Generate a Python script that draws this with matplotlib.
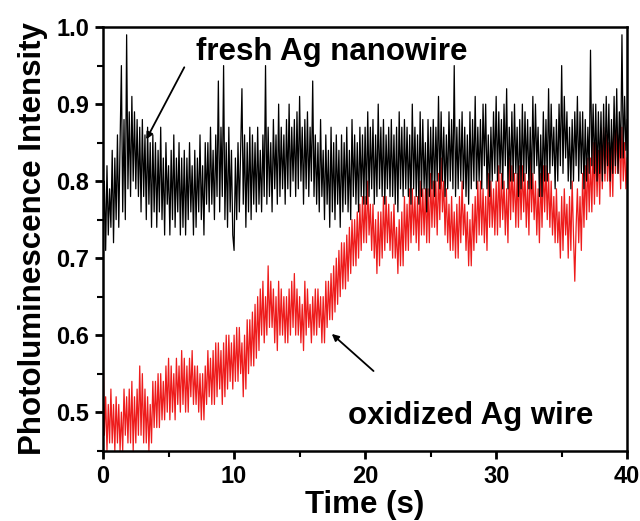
import numpy as np
import matplotlib
matplotlib.use("Agg")
import matplotlib.pyplot as plt
from matplotlib.ticker import MultipleLocator, FormatStrFormatter

# time axis (s), 0.1 s steps
time = [round(0.1 * i, 1) for i in range(401)]

fresh = [
    0.72, 0.80, 0.71, 0.82, 0.73, 0.79, 0.74, 0.84, 0.72, 0.83, 0.75, 0.86, 0.74, 0.85, 0.95, 0.76, 0.88, 0.75, 0.99, 0.79,
    0.89, 0.78, 0.91, 0.80, 0.89, 0.79, 0.88, 0.78, 0.87, 0.76, 0.88, 0.78, 0.86, 0.75, 0.87, 0.77, 0.85, 0.74, 0.86, 0.76,
    0.85, 0.74, 0.84, 0.76, 0.87, 0.75, 0.83, 0.73, 0.85, 0.77, 0.82, 0.73, 0.84, 0.75, 0.86, 0.74, 0.83, 0.76, 0.85, 0.73,
    0.83, 0.74, 0.84, 0.73, 0.83, 0.75, 0.85, 0.76, 0.82, 0.73, 0.84, 0.74, 0.83, 0.76, 0.86, 0.75, 0.82, 0.73, 0.85, 0.77,
    0.85, 0.76, 0.87, 0.77, 0.84, 0.75, 0.86, 0.78, 0.93, 0.76, 0.87, 0.78, 0.95, 0.75, 0.85, 0.74, 0.87, 0.76, 0.84, 0.73,
    0.71, 0.83, 0.75, 0.85, 0.76, 0.84, 0.92, 0.77, 0.86, 0.74, 0.85, 0.76, 0.87, 0.75, 0.86, 0.77, 0.85, 0.76, 0.87, 0.77,
    0.84, 0.76, 0.86, 0.78, 0.95, 0.77, 0.87, 0.78, 0.85, 0.76, 0.88, 0.79, 0.86, 0.77, 0.90, 0.78, 0.87, 0.79, 0.86, 0.77,
    0.88, 0.79, 0.90, 0.78, 0.87, 0.80, 0.88, 0.78, 0.89, 0.79, 0.91, 0.80, 0.87, 0.77, 0.88, 0.79, 0.89, 0.78, 0.87, 0.80,
    0.93, 0.78, 0.86, 0.77, 0.85, 0.76, 0.88, 0.78, 0.84, 0.75, 0.86, 0.77, 0.84, 0.74, 0.87, 0.76, 0.85, 0.75, 0.86, 0.77,
    0.84, 0.74, 0.86, 0.76, 0.85, 0.77, 0.87, 0.76, 0.84, 0.75, 0.88, 0.78, 0.86, 0.77, 0.85, 0.76, 0.87, 0.78, 0.86, 0.77,
    0.87, 0.77, 0.89, 0.78, 0.87, 0.79, 0.88, 0.77, 0.86, 0.78, 0.90, 0.79, 0.87, 0.78, 0.88, 0.77, 0.86, 0.79, 0.87, 0.78,
    0.88, 0.78, 0.86, 0.77, 0.87, 0.76, 0.89, 0.79, 0.87, 0.78, 0.88, 0.79, 0.87, 0.78, 0.86, 0.77, 0.90, 0.79, 0.87, 0.78,
    0.86, 0.77, 0.89, 0.78, 0.88, 0.79, 0.85, 0.76, 0.88, 0.78, 0.87, 0.79, 0.88, 0.78, 0.87, 0.80, 0.91, 0.79, 0.89, 0.80,
    0.87, 0.78, 0.86, 0.79, 0.89, 0.80, 0.88, 0.79, 0.95, 0.78, 0.87, 0.79, 0.88, 0.80, 0.89, 0.79, 0.87, 0.78, 0.86, 0.77,
    0.89, 0.79, 0.88, 0.80, 0.91, 0.79, 0.87, 0.80, 0.88, 0.79, 0.90, 0.82, 0.90, 0.79, 0.86, 0.78, 0.87, 0.80, 0.89, 0.81,
    0.91, 0.80, 0.89, 0.81, 0.88, 0.79, 0.90, 0.82, 0.92, 0.79, 0.87, 0.80, 0.89, 0.80, 0.90, 0.81, 0.87, 0.78, 0.88, 0.79,
    0.90, 0.80, 0.89, 0.81, 0.88, 0.79, 0.87, 0.79, 0.91, 0.81, 0.90, 0.82, 0.87, 0.78, 0.86, 0.78, 0.89, 0.80, 0.88, 0.80,
    0.92, 0.81, 0.90, 0.82, 0.87, 0.79, 0.88, 0.80, 0.90, 0.82, 0.95, 0.81, 0.91, 0.83, 0.89, 0.80, 0.87, 0.79, 0.88, 0.80,
    0.89, 0.82, 0.91, 0.80, 0.89, 0.81, 0.89, 0.79, 0.88, 0.80, 0.87, 0.81, 0.97, 0.82, 0.90, 0.81, 0.90, 0.80, 0.89, 0.81,
    0.89, 0.80, 0.90, 0.81, 0.91, 0.82, 0.90, 0.80, 0.88, 0.81, 0.91, 0.82, 0.92, 0.81, 0.89, 0.83, 0.99, 0.83, 0.91, 0.84,
    0.88,
]

oxidized = [
    0.59, 0.47, 0.52, 0.45, 0.51, 0.46, 0.53, 0.46, 0.51, 0.45, 0.52, 0.46, 0.51, 0.45, 0.50, 0.45, 0.53, 0.47, 0.52, 0.46,
    0.53, 0.46, 0.54, 0.45, 0.52, 0.46, 0.53, 0.47, 0.56, 0.47, 0.55, 0.46, 0.53, 0.46, 0.52, 0.45, 0.51, 0.46, 0.54, 0.48,
    0.54, 0.48, 0.55, 0.48, 0.55, 0.49, 0.54, 0.49, 0.56, 0.50, 0.57, 0.49, 0.56, 0.50, 0.55, 0.49, 0.57, 0.51, 0.56, 0.50,
    0.58, 0.51, 0.57, 0.50, 0.56, 0.50, 0.57, 0.52, 0.58, 0.51, 0.56, 0.51, 0.56, 0.50, 0.55, 0.49, 0.55, 0.49, 0.56, 0.51,
    0.58, 0.52, 0.57, 0.51, 0.58, 0.51, 0.59, 0.52, 0.59, 0.53, 0.58, 0.51, 0.59, 0.52, 0.60, 0.53, 0.60, 0.54, 0.59, 0.53,
    0.60, 0.54, 0.61, 0.54, 0.61, 0.55, 0.59, 0.52, 0.60, 0.53, 0.62, 0.55, 0.62, 0.56, 0.63, 0.56, 0.64, 0.57, 0.65, 0.58,
    0.66, 0.60, 0.67, 0.59, 0.65, 0.60, 0.69, 0.61, 0.67, 0.61, 0.66, 0.59, 0.65, 0.58, 0.67, 0.60, 0.66, 0.60, 0.65, 0.59,
    0.65, 0.59, 0.66, 0.60, 0.67, 0.61, 0.68, 0.60, 0.66, 0.60, 0.65, 0.59, 0.64, 0.58, 0.67, 0.60, 0.66, 0.61, 0.64, 0.59,
    0.65, 0.60, 0.66, 0.60, 0.66, 0.61, 0.65, 0.59, 0.65, 0.59, 0.67, 0.61, 0.67, 0.62, 0.68, 0.62, 0.69, 0.63, 0.70, 0.64,
    0.71, 0.65, 0.72, 0.66, 0.72, 0.66, 0.73, 0.67, 0.74, 0.68, 0.75, 0.69, 0.75, 0.69, 0.76, 0.70, 0.77, 0.71, 0.78, 0.72,
    0.78, 0.72, 0.80, 0.73, 0.77, 0.71, 0.77, 0.70, 0.75, 0.68, 0.76, 0.69, 0.76, 0.70, 0.78, 0.71, 0.78, 0.72, 0.77, 0.71,
    0.76, 0.70, 0.77, 0.70, 0.74, 0.68, 0.75, 0.69, 0.76, 0.69, 0.78, 0.71, 0.77, 0.71, 0.79, 0.72, 0.79, 0.73, 0.78, 0.72,
    0.78, 0.71, 0.80, 0.73, 0.79, 0.73, 0.79, 0.72, 0.79, 0.72, 0.81, 0.74, 0.80, 0.74, 0.80, 0.73, 0.81, 0.75, 0.83, 0.76,
    0.80, 0.73, 0.79, 0.72, 0.77, 0.71, 0.78, 0.71, 0.76, 0.70, 0.77, 0.70, 0.78, 0.72, 0.80, 0.73, 0.77, 0.71, 0.76, 0.69,
    0.75, 0.69, 0.77, 0.71, 0.78, 0.72, 0.80, 0.73, 0.80, 0.73, 0.79, 0.72, 0.78, 0.71, 0.81, 0.74, 0.80, 0.74, 0.79, 0.73,
    0.80, 0.73, 0.82, 0.74, 0.81, 0.75, 0.80, 0.73, 0.79, 0.72, 0.83, 0.75, 0.82, 0.76, 0.81, 0.74, 0.81, 0.74, 0.82, 0.75,
    0.82, 0.76, 0.81, 0.74, 0.80, 0.73, 0.83, 0.76, 0.81, 0.75, 0.80, 0.73, 0.79, 0.72, 0.81, 0.74, 0.82, 0.76, 0.82, 0.75,
    0.81, 0.74, 0.80, 0.73, 0.78, 0.72, 0.79, 0.72, 0.76, 0.70, 0.78, 0.71, 0.79, 0.73, 0.77, 0.70, 0.78, 0.71, 0.80, 0.73,
    0.67, 0.74, 0.79, 0.72, 0.78, 0.71, 0.81, 0.74, 0.82, 0.75, 0.83, 0.76, 0.83, 0.76, 0.85, 0.77, 0.85, 0.78, 0.84, 0.77,
    0.86, 0.79, 0.87, 0.80, 0.86, 0.80, 0.85, 0.78, 0.85, 0.78, 0.88, 0.81, 0.87, 0.81, 0.86, 0.79, 0.87, 0.80, 0.85, 0.79,
    0.83,
]

x_ticks = [0, 10, 20, 30, 40]
y_ticks = [0.5, 0.6, 0.7, 0.8, 0.9, 1.0]

plt.rcParams['font.family'] = ['Liberation Sans', 'DejaVu Sans']
plt.rcParams['font.weight'] = 'bold'

fig = plt.figure(figsize=(6.4, 5.21), dpi=100)
ax = fig.add_axes([0.161, 0.135, 0.819, 0.813])

ax.plot(time, oxidized, color='#ee1c1c', lw=0.9)
ax.plot(time, fresh, color='black', lw=0.9)

ax.set_xlim(0, 40)
ax.set_ylim(0.45, 1.0)
ax.set_xticks(x_ticks)
ax.set_yticks(y_ticks)
ax.xaxis.set_minor_locator(MultipleLocator(5))
ax.yaxis.set_minor_locator(MultipleLocator(0.05))
ax.yaxis.set_major_formatter(FormatStrFormatter('%.1f'))
ax.tick_params(which='major', direction='out', length=6, width=2, labelsize=17, pad=4)
ax.tick_params(which='minor', direction='out', length=4, width=1.5)
for s in ax.spines.values():
    s.set_linewidth(1.8)

ax.set_xlabel('Time (s)', fontsize=22.5, fontweight='bold', labelpad=2)
ax.set_ylabel('Photoluminescence Intensity', fontsize=22.5, fontweight='bold', labelpad=6)

ax.annotate('', xy=(3.2, 0.851), xytext=(6.3, 0.951),
            arrowprops=dict(arrowstyle='-|>', color='black', lw=1.3, mutation_scale=10))
ax.text(7.1, 0.968, 'fresh Ag nanowire', fontsize=22.5, fontweight='bold', va='center', ha='left')

ax.annotate('', xy=(17.3, 0.604), xytext=(20.8, 0.551),
            arrowprops=dict(arrowstyle='-|>', color='black', lw=1.3, mutation_scale=10))
ax.text(18.7, 0.495, 'oxidized Ag wire', fontsize=22.5, fontweight='bold', va='center', ha='left')

fig.savefig('out.png', dpi=100)
